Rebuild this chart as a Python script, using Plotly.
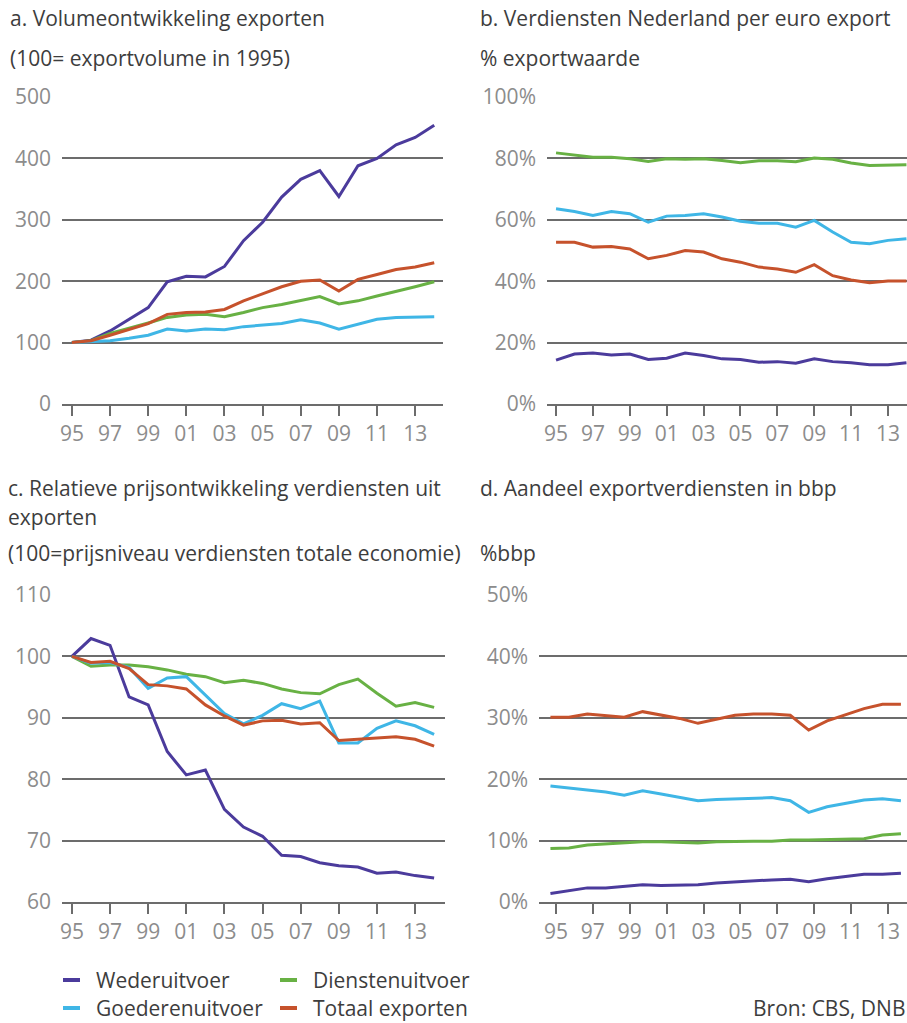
import plotly.graph_objects as go

# ---- data -------------------------------------------------------------
years = list(range(1995, 2015))
tick_years = list(range(1995, 2015, 2))
tick_labels = ["95", "97", "99", "01", "03", "05", "07", "09", "11", "13"]

series = ["Wederuitvoer", "Dienstenuitvoer", "Goederenuitvoer", "Totaal exporten"]

# a. volume (100 = 1995)
vol_weder = [100, 104, 119, 138, 157, 199, 208, 207, 224, 266, 296, 337, 366, 380, 338, 388, 400, 422, 434, 454]
vol_diensten = [100, 103, 115, 123, 132, 141, 145, 146, 142, 149, 157, 162, 168, 175, 163, 168, 176, 183, 191, 199]
vol_goederen = [100, 102, 103, 107, 112, 122, 119, 122, 121, 126, 128, 131, 137, 132, 122, 130, 138, 141, 141, 142]
vol_totaal = [100, 103, 112, 122, 131, 146, 149, 150, 154, 168, 179, 191, 200, 202, 184, 203, 211, 219, 223, 230]

# b. verdiensten per euro export (% exportwaarde)
ver_weder = [14.3, 16.3, 16.6, 16.0, 16.3, 14.5, 14.9, 16.6, 15.8, 14.7, 14.5, 13.6, 13.8, 13.3, 14.7, 13.8, 13.4, 12.8, 12.8, 13.4]
ver_diensten = [81.8, 81.2, 80.4, 80.4, 79.9, 79.0, 79.9, 79.7, 79.9, 79.3, 78.6, 79.2, 79.2, 78.9, 80.1, 79.7, 78.5, 77.7, 77.7, 77.9]
ver_goederen = [63.6, 62.7, 61.4, 62.7, 62.0, 59.2, 61.2, 61.4, 62.0, 60.9, 59.5, 58.9, 58.9, 57.6, 59.8, 56.0, 52.7, 52.2, 53.3, 53.8]
ver_totaal = [52.7, 52.7, 51.1, 51.3, 50.5, 47.3, 48.4, 50.0, 49.5, 47.3, 46.2, 44.6, 44.0, 42.9, 45.4, 41.8, 40.4, 39.5, 40.1, 40.1]

# c. relatieve prijsontwikkeling
prijs_weder = [100, 102.9, 101.8, 93.4, 92.1, 84.5, 80.7, 81.5, 75.1, 72.2, 70.7, 67.6, 67.4, 66.4, 65.9, 65.7, 64.7, 64.9, 64.3, 63.9]
prijs_diensten = [100, 98.4, 98.6, 98.6, 98.3, 97.8, 97.1, 96.7, 95.7, 96.1, 95.6, 94.7, 94.1, 93.9, 95.4, 96.3, 94.0, 91.9, 92.5, 91.7]
prijs_goederen = [100, 98.9, 99.0, 98.2, 94.8, 96.5, 96.7, 93.7, 90.7, 89.0, 90.4, 92.3, 91.5, 92.7, 85.9, 85.9, 88.3, 89.5, 88.7, 87.3]
prijs_totaal = [100, 99.0, 99.2, 98.0, 95.4, 95.2, 94.7, 92.1, 90.3, 88.8, 89.5, 89.6, 89.0, 89.2, 86.3, 86.5, 86.8, 86.9, 86.5, 85.4]

# d. aandeel exportverdiensten in bbp (%)
bbp_weder = [1.4, 1.9, 2.3, 2.3, 2.6, 2.8, 2.7, 2.7, 2.8, 3.1, 3.3, 3.5, 3.6, 3.7, 3.3, 3.8, 4.2, 4.5, 4.5, 4.7]
bbp_diensten = [8.7, 8.8, 9.3, 9.5, 9.7, 9.8, 9.8, 9.7, 9.6, 9.8, 9.9, 9.9, 9.9, 10.1, 10.1, 10.2, 10.2, 10.3, 10.9, 11.1]
bbp_goederen = [18.9, 18.6, 18.3, 17.9, 17.4, 18.1, 17.6, 17.0, 16.5, 16.7, 16.8, 17.0, 17.0, 16.5, 14.6, 15.5, 16.1, 16.6, 16.8, 16.5]
bbp_totaal = [30.1, 30.1, 30.6, 30.4, 30.1, 31.0, 30.4, 29.9, 29.1, 29.7, 30.4, 30.6, 30.6, 30.4, 28.0, 29.5, 30.5, 31.5, 32.2, 32.2]

COLORS = {
    "Wederuitvoer": "#4b3b9c",
    "Dienstenuitvoer": "#68b144",
    "Goederenuitvoer": "#3fb6e6",
    "Totaal exporten": "#c6522c",
}
GRID = "#6c6c6c"
TICK = "#8c8c8c"
TEXT = "#3d3d3d"
FONT = "Open Sans, sans-serif"
FS = 21
W, H = 907, 1023

panels = {
    "a": [vol_weder, vol_diensten, vol_goederen, vol_totaal],
    "b": [ver_weder, ver_diensten, ver_goederen, ver_totaal],
    "c": [prijs_weder, prijs_diensten, prijs_goederen, prijs_totaal],
    "d": [bbp_weder, bbp_diensten, bbp_goederen, bbp_totaal],
}
axis_ids = {"a": ("x", "y"), "b": ("x2", "y2"), "c": ("x3", "y3"), "d": ("x4", "y4")}
x_shift = {"a": 0, "b": 0, "c": 0, "d": -0.3}  # panel d is drawn slightly left in the source

fig = go.Figure()
for key, vals in panels.items():
    xa, ya = axis_ids[key]
    for name, v in zip(series, vals):
        fig.add_trace(go.Scatter(
            x=[yr + x_shift[key] for yr in years], y=v, mode="lines",
            line=dict(color=COLORS[name], width=3),
            name=name, showlegend=False, xaxis=xa, yaxis=ya,
        ))


def px(x):
    return x / W


def py(y):
    return 1 - y / H


def xaxis(dom, rng):
    return dict(
        domain=dom, range=rng, tickvals=tick_years, ticktext=tick_labels,
        showgrid=False, zeroline=False, showline=True, linecolor=GRID, linewidth=2,
        ticks="outside", ticklen=10, tickwidth=2, tickcolor=GRID, automargin=False,
        tickfont=dict(size=FS, color=TICK, family=FONT), fixedrange=True,
    )


def yaxis(dom, rng, dtick, suffix="", anchor="x"):
    return dict(
        domain=dom, range=rng, dtick=dtick, tick0=rng[0], ticksuffix=suffix,
        showgrid=True, gridcolor=GRID, gridwidth=2, zeroline=False, showline=False,
        ticks="", ticklabelstandoff=10, anchor=anchor, automargin=False,
        tickfont=dict(size=FS, color=TICK, family=FONT), fixedrange=True,
    )


top = [py(404), py(97)]
bottom = [py(902), py(595)]
fig.update_layout(
    width=W, height=H, margin=dict(l=0, r=0, t=0, b=0, autoexpand=False),
    paper_bgcolor="white", plot_bgcolor="white", showlegend=False,
    font=dict(family=FONT, color=TEXT),
    xaxis=dict(xaxis([px(62), px(443)], [1994.48, 2014.46]), anchor="y"),
    yaxis=yaxis(top, [0, 500], 100, anchor="x"),
    xaxis2=dict(xaxis([px(547), 1.0], [1994.51, 2014.03]), anchor="y2"),
    yaxis2=yaxis(top, [0, 100], 20, "%", anchor="x2"),
    xaxis3=dict(xaxis([px(62), px(445)], [1994.48, 2014.57]), anchor="y3"),
    yaxis3=yaxis(bottom, [60, 110], 10, anchor="x3"),
    xaxis4=dict(xaxis([px(539), 1.0], [1994.08, 2014.03]), anchor="y4"),
    yaxis4=yaxis(bottom, [0, 50], 10, "%", anchor="x4"),
)

# panel titles
titles = [
    (8, 18, "a. Volumeontwikkeling exporten"),
    (8, 58, "(100= exportvolume in 1995)"),
    (478, 18, "b. Verdiensten Nederland per euro export"),
    (478, 58, "% exportwaarde"),
    (6, 488, "c. Relatieve prijsontwikkeling verdiensten uit"),
    (6, 517, "exporten"),
    (6, 553, "(100=prijsniveau verdiensten totale economie)"),
    (478, 488, "d. Aandeel exportverdiensten in bbp"),
    (478, 553, "%bbp"),
]
for x, y, t in titles:
    fig.add_annotation(x=px(x), y=py(y), xref="paper", yref="paper", text=t,
                       showarrow=False, xanchor="left", yanchor="middle",
                       font=dict(size=FS, color=TEXT, family=FONT))

# legend (two columns)
legend_pos = [
    ("Wederuitvoer", 63, 980),
    ("Dienstenuitvoer", 280, 980),
    ("Goederenuitvoer", 63, 1008),
    ("Totaal exporten", 280, 1008),
]
for name, x, y in legend_pos:
    fig.add_shape(type="line", xref="paper", yref="paper",
                  x0=px(x), x1=px(x + 17), y0=py(y), y1=py(y),
                  line=dict(color=COLORS[name], width=4))
    fig.add_annotation(x=px(x + 31), y=py(y), xref="paper", yref="paper", text=name,
                       showarrow=False, xanchor="left", yanchor="middle",
                       font=dict(size=FS, color=TEXT, family=FONT))

fig.add_annotation(x=1.0, y=py(1008), xref="paper", yref="paper", text="Bron: CBS, DNB",
                   showarrow=False, xanchor="right", yanchor="middle",
                   font=dict(size=FS, color=TEXT, family=FONT))

# pin the graph to the top-left corner of the page
pin = (
    "document.body.style.margin='0';"
    "document.body.style.overflow='hidden';"
    "var d=document.getElementById('{plot_id}');"
    "d.style.position='fixed';d.style.top='0';d.style.left='0';"
)
fig.write_html("out.html", config={"displayModeBar": False}, post_script=pin)
